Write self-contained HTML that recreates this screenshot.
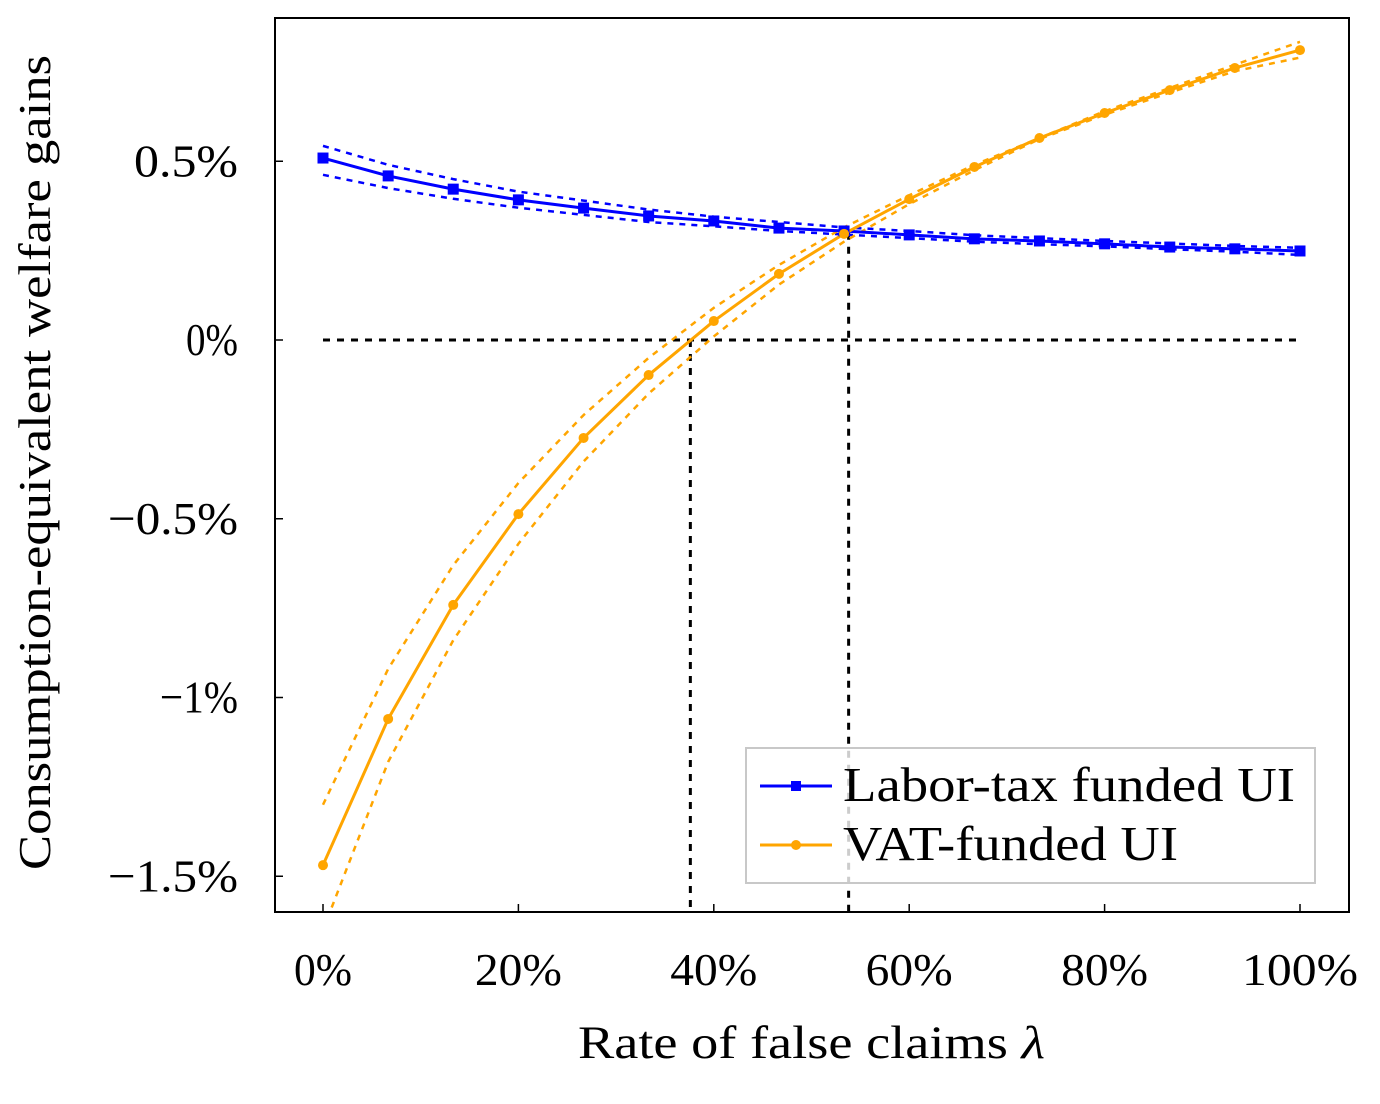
<!DOCTYPE html>
<html><head><meta charset="utf-8">
<style>
html,body{margin:0;padding:0;background:#fff;}
svg{display:block;font-family:"Liberation Serif",serif;}
</style></head>
<body>
<svg id="chart" width="1380" height="1104" viewBox="0 0 1380 1104" xmlns="http://www.w3.org/2000/svg">
<rect x="275" y="18" width="1074" height="894" fill="#fff" stroke="#000" stroke-width="2"/>
<g id="grid"></g>
<g id="series"></g>
<g id="ticks"></g>
<text x="578" y="1058" font-size="47" textLength="467" lengthAdjust="spacingAndGlyphs">Rate of false claims <tspan font-style="italic">λ</tspan></text>
<text transform="translate(50,870) rotate(-90)" font-size="46" textLength="815" lengthAdjust="spacingAndGlyphs">Consumption-equivalent welfare gains</text>
<g>
<rect x="746" y="748" width="569" height="135" fill="#fff" fill-opacity="0.8" stroke="#c8c8c8" stroke-width="2"/>
<g>
<line x1="760" y1="786" x2="832" y2="786" stroke="#0000ff" stroke-width="3"/>
<rect x="791" y="781" width="10" height="10" fill="#0000ff"/>
<text x="843" y="801" font-size="49" textLength="452" lengthAdjust="spacingAndGlyphs">Labor-tax funded UI</text>
</g>
<g>
<line x1="760" y1="845" x2="832" y2="845" stroke="#ffa500" stroke-width="3"/>
<circle cx="796" cy="845" r="5" fill="#ffa500"/>
<text x="843" y="860" font-size="49" textLength="335" lengthAdjust="spacingAndGlyphs">VAT-funded UI</text>
</g>
</g>
</svg>
<script>
const lambdaPct = [0,6.67,13.33,20,26.67,33.33,40,46.67,53.33,60,66.67,73.33,80,86.67,93.33,100];
const laborMid = [0.509,0.459,0.422,0.392,0.369,0.347,0.333,0.313,0.305,0.294,0.283,0.277,0.269,0.260,0.255,0.249];
const laborUp  = [0.543,0.49,0.45,0.415,0.39,0.365,0.345,0.33,0.315,0.305,0.293,0.285,0.277,0.27,0.263,0.258];
const laborLo  = [0.462,0.425,0.395,0.37,0.35,0.33,0.318,0.305,0.295,0.285,0.275,0.268,0.262,0.254,0.247,0.238];
const vatMid = [-1.469,-1.06,-0.741,-0.487,-0.274,-0.098,0.053,0.185,0.297,0.394,0.484,0.565,0.635,0.699,0.761,0.811];
const vatUp  = [-1.30,-0.92,-0.63,-0.40,-0.21,-0.05,0.09,0.21,0.315,0.405,0.49,0.565,0.64,0.705,0.77,0.834];
const vatLo  = [-1.65,-1.18,-0.84,-0.57,-0.34,-0.15,0.01,0.155,0.275,0.38,0.475,0.562,0.63,0.692,0.752,0.79];
const xTicks = [0,20,40,60,80,100];
const xTickLabels = ["0%","20%","40%","60%","80%","100%"];
const yTicks = [0.5,0,-0.5,-1,-1.5];
const yTickLabels = ["0.5%","0%","\u22120.5%","\u22121%","\u22121.5%"];
const crossZero = 37.6;
const crossCurves = 53.8;
const crossCurvesY = 0.3;

const NS="http://www.w3.org/2000/svg";
const xS = v => 323 + (v/100)*977;
const yS = v => 340 - v*357.5;
function mk(tag, attrs, parent){const e=document.createElementNS(NS,tag);for(const k in attrs)e.setAttribute(k,attrs[k]);parent.appendChild(e);return e;}
const grid=document.getElementById('grid'), ser=document.getElementById('series'), tk=document.getElementById('ticks');

const defs=mk('defs',{},document.getElementById('chart'));
const cp=mk('clipPath',{id:'clip'},defs);
mk('rect',{x:276,y:19,width:1072,height:892},cp);
ser.setAttribute('clip-path','url(#clip)');

let l;
l=mk('line',{x1:xS(0),x2:xS(100),y1:yS(0),y2:yS(0),stroke:'#000','stroke-width':3,'stroke-dasharray':'7,7'},grid);


l=mk('line',{x1:xS(crossZero),x2:xS(crossZero),y1:yS(0),y2:912,stroke:'#000','stroke-width':3,'stroke-dasharray':'7,7'},grid);


l=mk('line',{x1:xS(crossCurves),x2:xS(crossCurves),y1:yS(crossCurvesY),y2:912,stroke:'#000','stroke-width':3,'stroke-dasharray':'7,7'},grid);



function pts(arr){return arr.map((v,i)=>xS(lambdaPct[i])+','+yS(v)).join(' ');}
function line(arr,color,dashed,name){
  const p=mk('polyline',{points:pts(arr),fill:'none',stroke:color,'stroke-width':dashed?2.5:3,'stroke-dasharray':dashed?'6,6':'none','stroke-linejoin':'round'},ser);
  
  
}
line(laborUp,'#0000ff',true,'labor-upper-band');
line(laborLo,'#0000ff',true,'labor-lower-band');
line(vatUp,'#ffa500',true,'vat-upper-band');
line(vatLo,'#ffa500',true,'vat-lower-band');
line(laborMid,'#0000ff',false,'labor-line');
line(vatMid,'#ffa500',false,'vat-line');
laborMid.forEach((v,i)=>{
  const r=mk('rect',{x:xS(lambdaPct[i])-5.5,y:yS(v)-5.5,width:11,height:11,fill:'#0000ff'},ser);
  
  
});
vatMid.forEach((v,i)=>{
  const c=mk('circle',{cx:xS(lambdaPct[i]),cy:yS(v),r:5,fill:'#ffa500'},ser);
  
  
});

xTicks.forEach((v,i)=>{
  mk('line',{x1:xS(v),x2:xS(v),y1:912,y2:904,stroke:'#000','stroke-width':1.5},tk);
  const w = xTickLabels[i].length*29;
  const t=mk('text',{x:xS(v),y:985,'font-size':46,'text-anchor':'middle',textLength:w,lengthAdjust:'spacingAndGlyphs'},tk);
  t.textContent=xTickLabels[i];
  
  
});
yTicks.forEach((v,i)=>{
  mk('line',{x1:275,x2:283,y1:yS(v),y2:yS(v),stroke:'#000','stroke-width':1.5},tk);
  const w = yTickLabels[i].length*26;
  const t=mk('text',{x:238,y:yS(v)+15,'font-size':46,'text-anchor':'end',textLength:w,lengthAdjust:'spacingAndGlyphs'},tk);
  t.textContent=yTickLabels[i];
  
  
});
</script>
</body></html>
